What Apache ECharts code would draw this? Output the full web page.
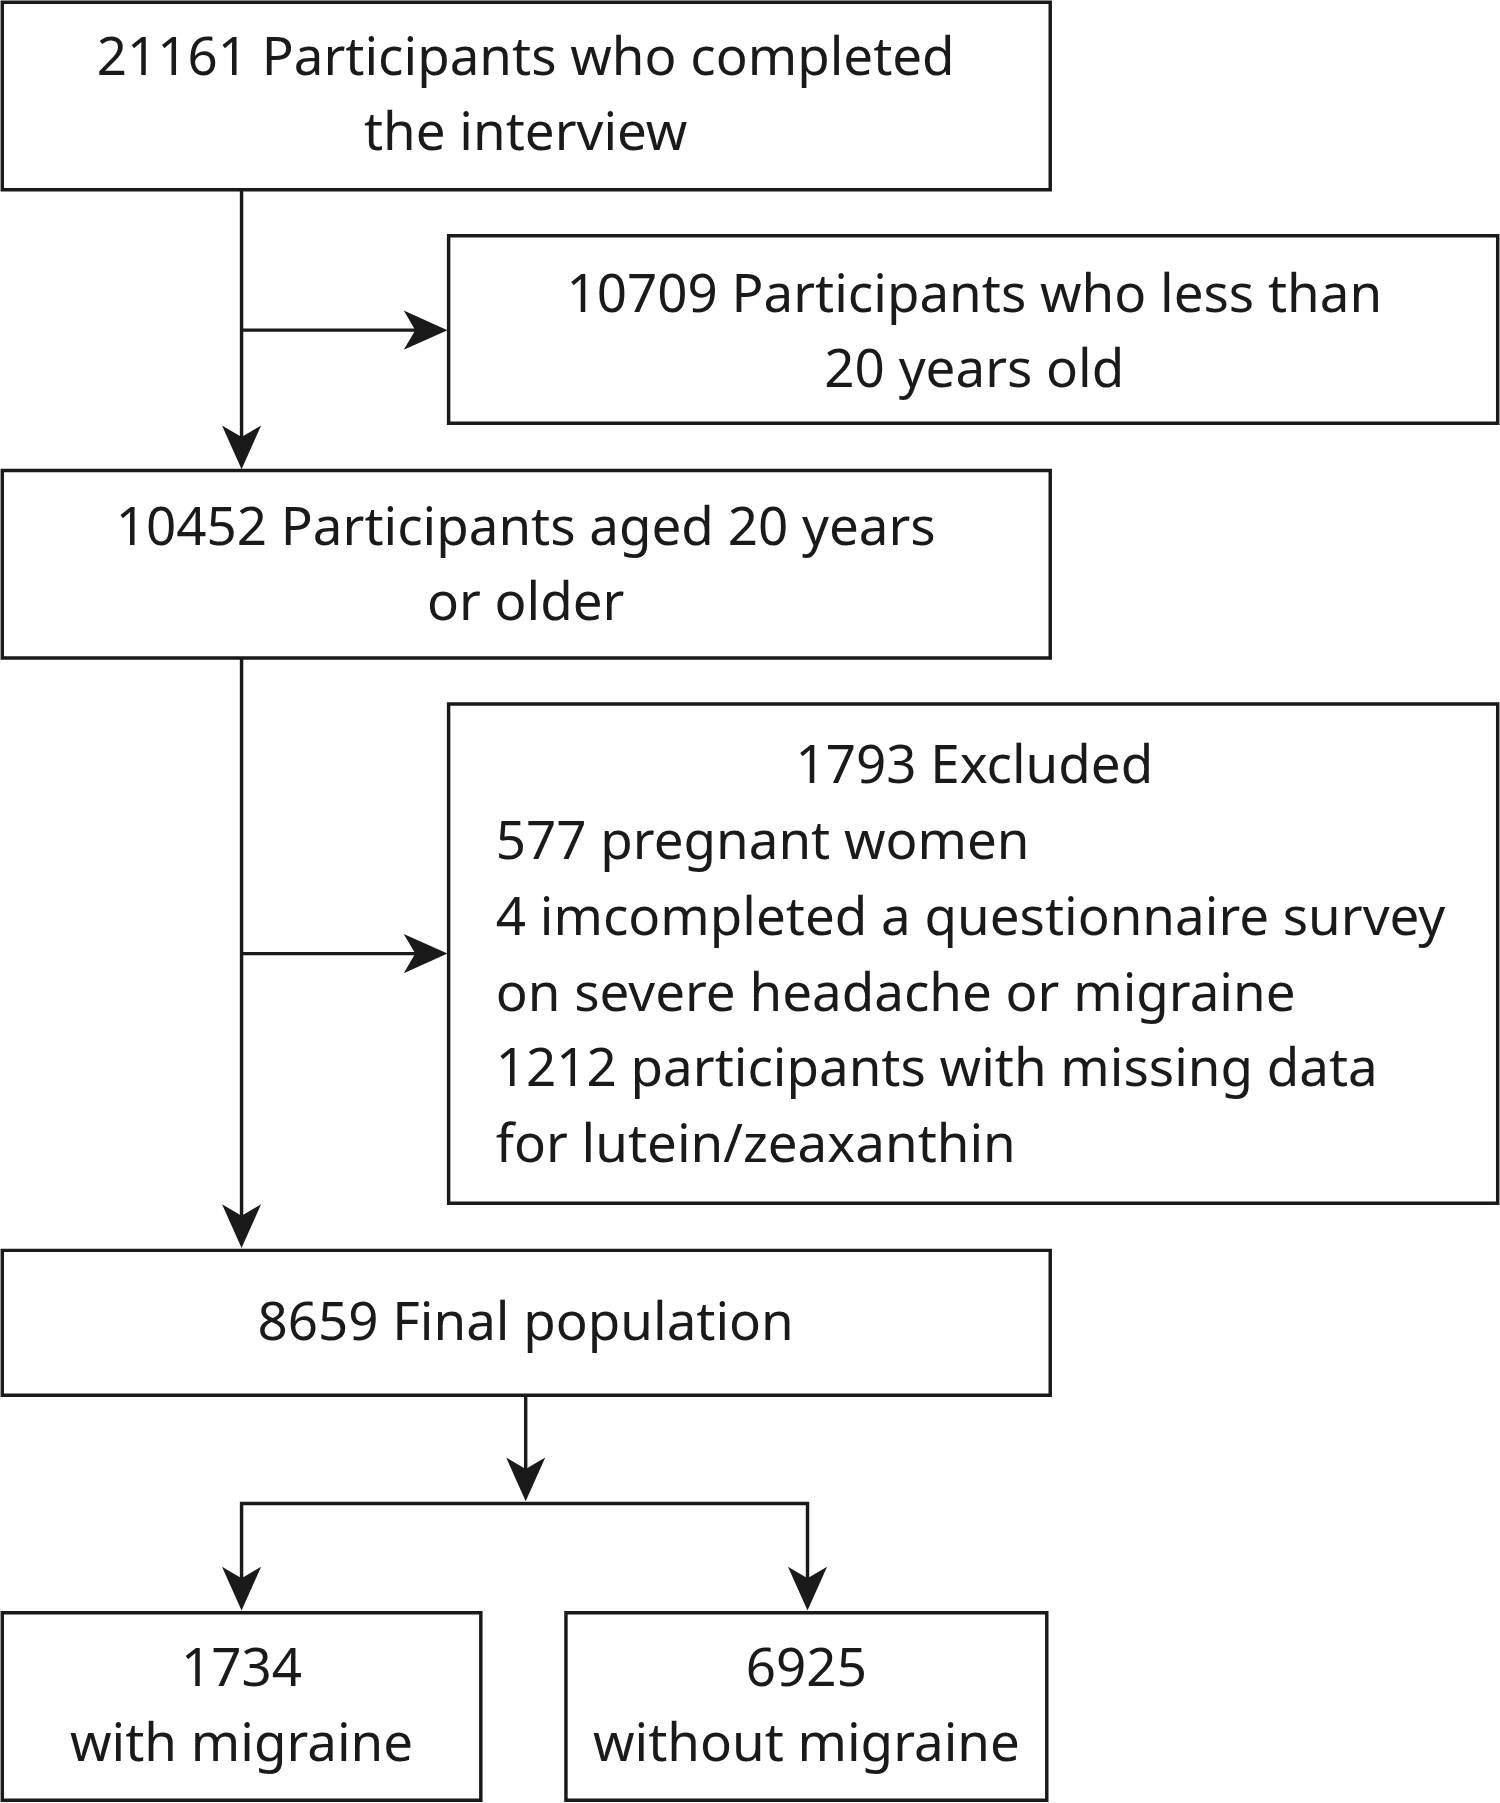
<!DOCTYPE html>
<html>
<head>
<meta charset="utf-8">
<script src="https://cdn.jsdelivr.net/npm/echarts@6/dist/echarts.min.js"></script>
<style>html,body{margin:0;padding:0;background:#fff}#main{width:1500px;height:1803px}</style>
</head>
<body>
<div id="main"></div>
<script>
// 流程图的数据
var counts = [21161, 10709, 10452, 1793, 8659, 1734, 6925];
var boxTexts = [
    ['21161 Participants who completed', 'the interview'],
    ['10709 Participants who less than', '20 years old'],
    ['10452 Participants aged 20 years', 'or older'],
    ['1793 Excluded'],
    ['8659 Final population'],
    ['1734', 'with migraine'],
    ['6925', 'without migraine']
];
var excludedLines = [
    '577 pregnant women',
    '4 imcompleted a questionnaire survey',
    'on severe headache or migraine',
    '1212 participants with missing data',
    'for lutein/zeaxanthin'
];

var s = 1500 / 1304;
var font = '"Noto Sans", "Open Sans", sans-serif';
var fs = 46 * s;
// 方框 [x1, y1, x2, y2, 文字中心x, 第一行y]
var boxes = [
    [2, 2, 913, 165, 457, 52],
    [390, 205, 1302, 368, 847, 258],
    [2, 409, 913, 572, 457, 461],
    [390, 612, 1302, 1046, 847, 668],
    [2, 1087, 913, 1213, 457, 1152],
    [2, 1402, 418, 1565, 210, 1453],
    [492, 1402, 910, 1565, 701, 1453]
];
var lineH = 65;
var g = [];
var stroke = {stroke: '#1a1a1a', lineWidth: 3 * s, fill: null};

boxes.forEach(function (b, i) {
    g.push({type: 'rect', shape: {x: b[0] * s, y: b[1] * s, width: (b[2] - b[0]) * s, height: (b[3] - b[1]) * s}, style: {stroke: '#1a1a1a', lineWidth: 3 * s, fill: '#fff'}});
    boxTexts[i].forEach(function (t, j) {
        g.push({type: 'text', x: b[4] * s, y: (b[5] + j * lineH) * s,
            style: {text: t, font: fs + 'px ' + font, fill: '#1a1a1a', textAlign: 'center', textVerticalAlign: 'middle'}});
    });
});
excludedLines.forEach(function (t, j) {
    g.push({type: 'text', x: 431 * s, y: (734 + j * 65.7) * s,
        style: {text: t, font: fs + 'px ' + font, fill: '#1a1a1a', textAlign: 'left', textVerticalAlign: 'middle'}});
});

function line(pts) {
    g.push({type: 'polyline', shape: {points: pts.map(function (p) { return [p[0] * s, p[1] * s]; })}, style: stroke});
}
// 箭头 (tip 坐标, 方向)
function head(x, y, dir) {
    var L = 38, W = 17, N = 10;
    var pts = dir === 'down'
        ? [[x, y], [x - W, y - L], [x, y - L + N], [x + W, y - L]]
        : [[x, y], [x - L, y - W], [x - L + N, y], [x - L, y + W]];
    g.push({type: 'polygon', shape: {points: pts.map(function (p) { return [p[0] * s, p[1] * s]; })}, style: {fill: '#1a1a1a'}});
}

line([[210, 165], [210, 395]]); head(210, 408, 'down');
line([[210, 287], [375, 287]]); head(389, 287, 'right');
line([[210, 572], [210, 1072]]); head(210, 1085, 'down');
line([[210, 829], [375, 829]]); head(389, 829, 'right');
line([[457, 1213], [457, 1292]]); head(457, 1305, 'down');
line([[210, 1387], [210, 1307], [702, 1307], [702, 1387]]);
head(210, 1400, 'down'); head(702, 1400, 'down');

var myChart = echarts.init(document.getElementById('main'));
myChart.setOption({animation: false, graphic: g});
</script>
</body>
</html>
